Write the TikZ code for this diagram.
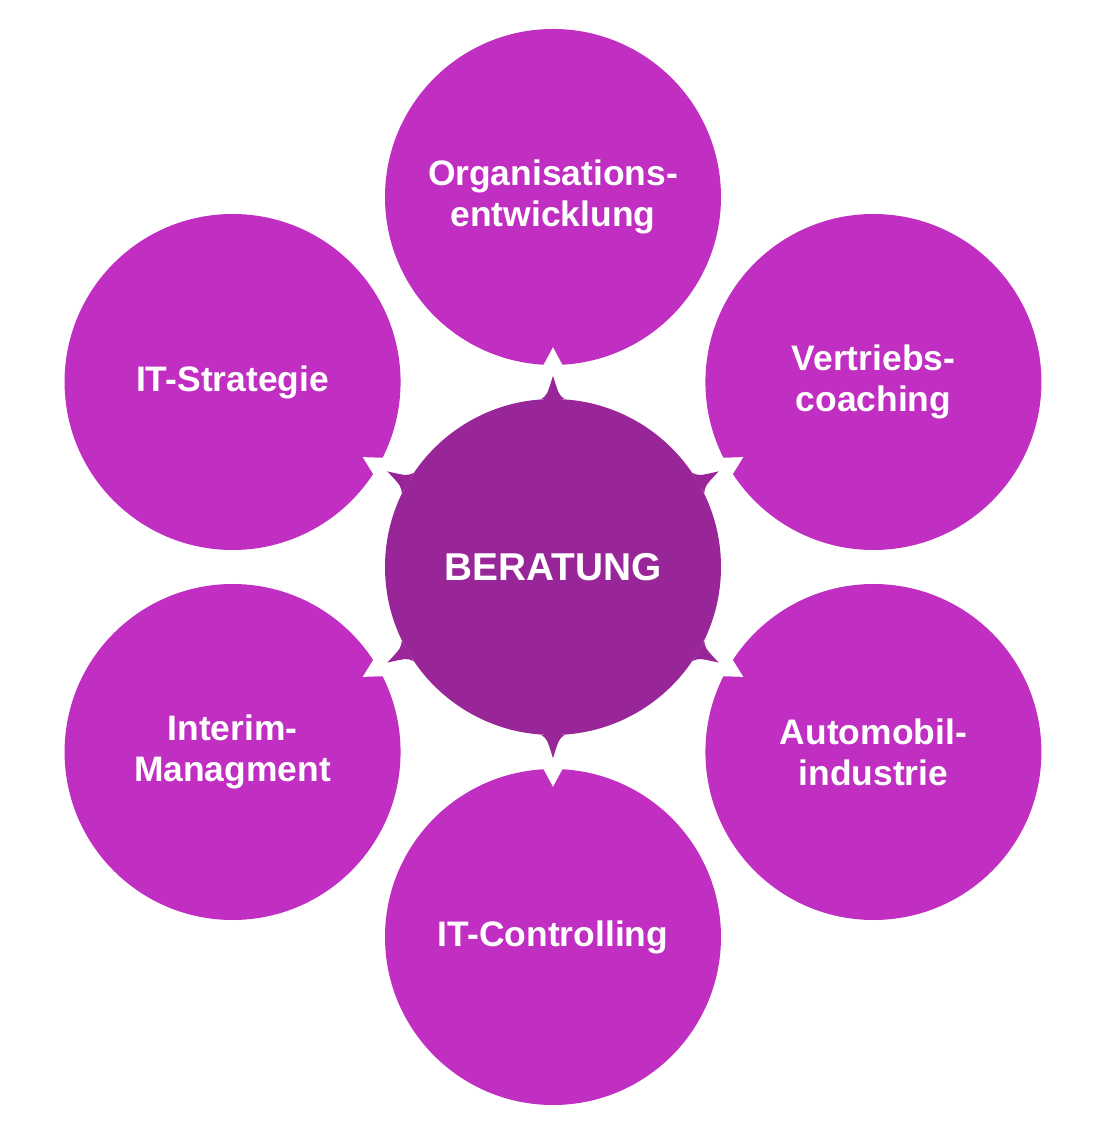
\documentclass[tikz,border=0pt]{standalone}
\usepackage{fontspec}
\setmainfont{Liberation Sans}
\definecolor{ringcol}{RGB}{192,47,193}
\definecolor{hubcol}{RGB}{153,38,152}
\tikzset{
  ring/.style={circle,fill=ringcol,inner sep=0pt,minimum size=8.4cm,text=white,align=center,
    font=\fontsize{25.2}{29.2}\selectfont\bfseries},
  hub/.style={circle,fill=hubcol,inner sep=0pt,minimum size=8.4cm,text=white,
    font=\fontsize{27.6}{32}\selectfont\bfseries}
}
\begin{document}
\begin{tikzpicture}
\useasboundingbox (-13.825,14.175) rectangle (14.1,-14.15);
\draw 	(90:9.25) node[ring](o1){Organisations-\\entwicklung}   (30:9.25) node[ring](o2){Vertriebs-\\coaching}
  		(-30:9.25) node[ring](o3){Automobil-\\industrie}   (-90:9.25) node[ring](o4){IT-Controlling}
  		(210:9.25) node[ring](o5){Interim-\\Managment}   (150:9.25) node[ring](o6){IT-Strategie};
% notches
\fill[white] ([shift={(270:0.25)}]o1.265) -- ([shift={(90:0.45)}]o1.270) -- ([shift={(270:0.25)}]o1.275) -- cycle;
\fill[white] ([shift={(210:0.25)}]o2.205) -- ([shift={(30:0.45)}]o2.210) -- ([shift={(210:0.25)}]o2.215) -- cycle;
\fill[white] ([shift={(150:0.25)}]o3.145) -- ([shift={(-30:0.45)}]o3.150) -- ([shift={(150:0.25)}]o3.155) -- cycle;
\fill[white] ([shift={(90:0.25)}]o4.85) -- ([shift={(270:0.45)}]o4.90) -- ([shift={(90:0.25)}]o4.95) -- cycle;
\fill[white] ([shift={(30:0.25)}]o5.25) -- ([shift={(210:0.45)}]o5.30) -- ([shift={(30:0.25)}]o5.35) -- cycle;
\fill[white] ([shift={(-30:0.25)}]o6.-35) -- ([shift={(150:0.45)}]o6.-30) -- ([shift={(-30:0.25)}]o6.-25) -- cycle;

\draw 	(0,0) node[hub](c0){BERATUNG};
% spikes
\fill[hubcol] (c0.94) .. controls ([shift={(90:0.1)}]c0.92) .. ([shift={(90:0.575)}]c0.90) .. controls ([shift={(90:0.1)}]c0.88) .. (c0.86) -- cycle;
\fill[hubcol] (c0.34) .. controls ([shift={(30:0.1)}]c0.32) .. ([shift={(30:0.575)}]c0.30) .. controls ([shift={(30:0.1)}]c0.28) .. (c0.26) -- cycle;
\fill[hubcol] (c0.-26) .. controls ([shift={(-30:0.1)}]c0.-28) .. ([shift={(-30:0.575)}]c0.-30) .. controls ([shift={(-30:0.1)}]c0.-32) .. (c0.-34) -- cycle;
\fill[hubcol] (c0.-86) .. controls ([shift={(-90:0.1)}]c0.-88) .. ([shift={(-90:0.575)}]c0.-90) .. controls ([shift={(-90:0.1)}]c0.-92) .. (c0.-94) -- cycle;
\fill[hubcol] (c0.214) .. controls ([shift={(210:0.1)}]c0.212) .. ([shift={(210:0.575)}]c0.210) .. controls ([shift={(210:0.1)}]c0.208) .. (c0.206) -- cycle;
\fill[hubcol] (c0.154) .. controls ([shift={(150:0.1)}]c0.152) .. ([shift={(150:0.575)}]c0.150) .. controls ([shift={(150:0.1)}]c0.148) .. (c0.146) -- cycle;
\end{tikzpicture}
\end{document}
